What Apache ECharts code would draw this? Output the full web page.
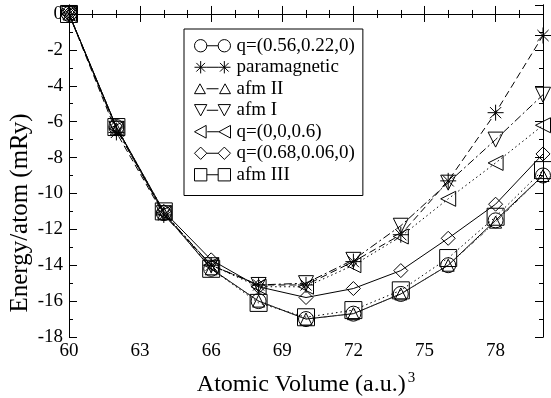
<!DOCTYPE html>
<html>
<head>
<meta charset="utf-8">
<script src="https://cdn.jsdelivr.net/npm/echarts@6/dist/echarts.min.js"></script>
<style>
  html, body { margin: 0; padding: 0; background: #fff; }
  #chart { width: 551px; height: 398px; }
</style>
</head>
<body>
<div id="chart"></div>
<script>
// atomic volume (a.u.)^3
const volumes = [60, 62, 64, 66, 68, 70, 72, 74, 76, 78, 80]

// energy/atom (mRy)
const qSpiral1 = [0, -6.3, -11.1, -14.2, -16.0, -17.0, -16.7, -15.6, -14.0, -11.5, -9.0]
const paramagnetic = [0, -6.6, -11.2, -14.0, -15.1, -15.1, -13.8, -12.3, -9.3, -5.5, -1.2]
const afmII = [0, -6.4, -11.1, -14.2, -16.0, -17.0, -16.7, -15.6, -14.0, -11.6, -9.0]
const afmI = [0, -6.4, -11.1, -14.0, -15.1, -15.0, -13.7, -11.8, -9.4, -7.0, -4.5]
const qSpiral2 = [0, -6.4, -11.1, -14.0, -15.2, -15.2, -14.0, -12.4, -10.3, -8.3, -6.2]
const qSpiral3 = [0, -6.3, -11.0, -13.7, -15.2, -15.8, -15.3, -14.3, -12.5, -10.6, -7.8]
const afmIII = [0, -6.3, -11.0, -14.2, -16.1, -16.9, -16.5, -15.4, -13.6, -11.3, -8.7]

const seriesNames = ["q=(0.56,0.22,0)", "paramagnetic", "afm II", "afm I", "q=(0,0,0.6)", "q=(0.68,0.06,0)", "afm III"]
const seriesValues = [qSpiral1, paramagnetic, afmII, afmI, qSpiral2, qSpiral3, afmIII]

const FONT = "Liberation Serif"
const STAR = "path://M0 -1L0 1M-1 0L1 0M-0.7 -0.7L0.7 0.7M0.7 -0.7L-0.7 0.7"

// marker look for each series: [symbol, size, rotate, dash, lineColor]
const looks = [
  ["circle", 15, 0, "solid", "#000"],
  [STAR, 16, 0, [7, 4], "#000"],
  ["triangle", 12, 0, [4, 2, 1, 2, 1, 2], "#444"],
  ["triangle", 15, 180, [8, 3, 2, 3], "#000"],
  ["triangle", 15, 90, [1.5, 3], "#000"],
  ["diamond", 14, 0, "solid", "#000"],
  ["rect", 17, 0, [1.5, 3], "#000"],
]

// legend icons: marker - line - marker
const shapes = [
  (c) => `M${c - 6} 6.5A6 6 0 1 1 ${c + 6} 6.5A6 6 0 1 1 ${c - 6} 6.5Z`,
  (c) => `M${c} 0.5L${c} 12.5M${c - 6} 6.5L${c + 6} 6.5M${c - 4.2} 2.3L${c + 4.2} 10.7M${c + 4.2} 2.3L${c - 4.2} 10.7`,
  (c) => `M${c} 2L${c + 5} 11L${c - 5} 11Z`,
  (c) => `M${c} 12L${c + 6} 1L${c - 6} 1Z`,
  (c) => `M${c - 6} 6.5L${c + 5} 0.5L${c + 5} 12.5Z`,
  (c) => `M${c} 0.5L${c + 6} 6.5L${c} 12.5L${c - 6} 6.5Z`,
  (c) => `M${c - 6} 0.5L${c + 6} 0.5L${c + 6} 12.5L${c - 6} 12.5Z`,
]
const legendIcon = (i) => "path://" + shapes[i](6.5) + "M12.5 6.5L23.5 6.5" + shapes[i](29.5)

const chart = echarts.init(document.getElementById("chart"))

const axisLine = { show: true, lineStyle: { color: "#000", width: 1 } }
const xBase = { type: "value", min: 60, max: 80, gridIndex: 0, splitLine: { show: false }, axisLine }
const yBase = { type: "value", min: -18, max: 0.5, gridIndex: 0, splitLine: { show: false }, axisLine }
const hidden = { show: false }

chart.setOption({
  animation: false,
  grid: { left: 69, right: 8, top: 5, bottom: 61, outerBoundsMode: "none" },
  legend: {
    orient: "vertical",
    left: 184,
    top: 29,
    padding: [6, 8, 10, 10],
    itemWidth: 36,
    itemHeight: 14,
    itemGap: 0,
    borderColor: "#000",
    borderWidth: 1,
    selectedMode: false,
    itemStyle: { color: "rgba(0,0,0,0)", borderColor: "#000", borderWidth: 1 },
    textStyle: { fontFamily: FONT, fontSize: 19, lineHeight: 21.5, color: "#000", padding: [0, 0, 0, 1] },
    data: seriesNames.map((name, i) => ({ name, icon: legendIcon(i) })),
  },
  xAxis: [
    {
      ...xBase,
      position: "bottom",
      interval: 3,
      name: "{a|Atomic Volume (a.u.)}{s|3}",
      nameLocation: "middle",
      nameGap: 34,
      nameTextStyle: {
        rich: {
          a: { fontFamily: FONT, fontSize: 24, color: "#000", lineHeight: 28 },
          s: { fontFamily: FONT, fontSize: 15, color: "#000", verticalAlign: "top", padding: [0, 0, 12, 2] },
        },
      },
      axisTick: { inside: true, length: 8, lineStyle: { color: "#000" } },
      axisLabel: {
        fontFamily: FONT, fontSize: 19, color: "#000", margin: 5,
        formatter: (v) => (v % 3 === 0 ? String(v) : ""),
      },
    },
    { ...xBase, position: "bottom", interval: 1, axisTick: { inside: true, length: 4, lineStyle: { color: "#000" } }, axisLabel: hidden },
    { ...xBase, position: "top", interval: 3, axisTick: { inside: true, length: 8, lineStyle: { color: "#000" } }, axisLabel: hidden },
    { ...xBase, position: "top", interval: 1, axisTick: { inside: true, length: 4, lineStyle: { color: "#000" } }, axisLabel: hidden },
  ],
  yAxis: [
    {
      ...yBase,
      position: "left",
      interval: 2,
      name: "Energy/atom (mRy)",
      nameLocation: "middle",
      nameGap: 36,
      nameMoveOverlap: false,
      nameTextStyle: { fontFamily: FONT, fontSize: 25, color: "#000", padding: [0, 84, 0, 0] },
      axisTick: { inside: true, length: 8, lineStyle: { color: "#000" } },
      axisLabel: {
        fontFamily: FONT, fontSize: 19, color: "#000", margin: 6,
        formatter: (v) => (v % 2 === 0 ? String(v) : ""),
      },
    },
    { ...yBase, position: "left", interval: 1, axisTick: { inside: true, length: 4, lineStyle: { color: "#000" } }, axisLabel: hidden },
    { ...yBase, position: "right", interval: 2, axisTick: { inside: true, length: 8, lineStyle: { color: "#000" } }, axisLabel: hidden },
    { ...yBase, position: "right", interval: 1, axisTick: { inside: true, length: 4, lineStyle: { color: "#000" } }, axisLabel: hidden },
  ],
  series: seriesNames.map((name, i) => {
    const [symbol, size, rotate, dash, lineColor] = looks[i]
    return {
      name,
      type: "line",
      xAxisIndex: 0,
      yAxisIndex: 0,
      data: volumes.map((v, k) => [v, seriesValues[i][k]]),
      symbol,
      symbolSize: size,
      symbolRotate: rotate,
      showAllSymbol: true,
      lineStyle: { color: lineColor, width: 1, type: dash },
      itemStyle: { color: "rgba(0,0,0,0)", borderColor: "#000", borderWidth: 1 },
      emphasis: { disabled: true },
    }
  }),
})
</script>
</body>
</html>
